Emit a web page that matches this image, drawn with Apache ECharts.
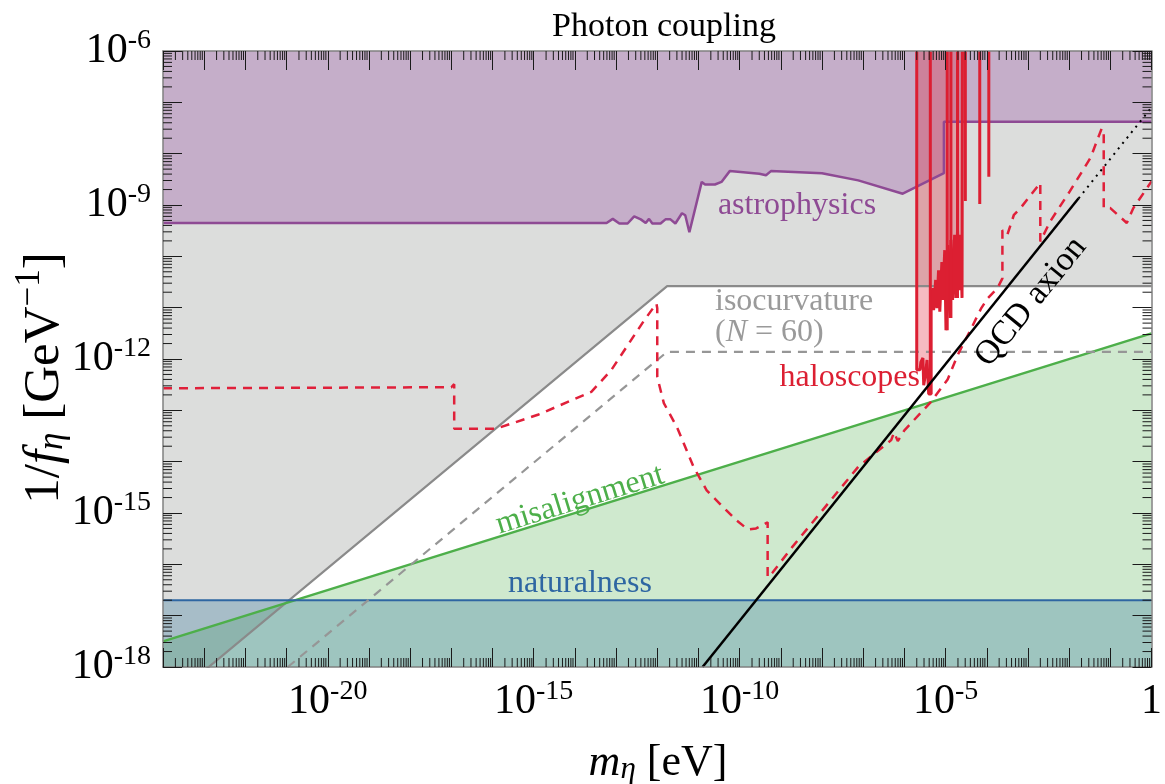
<!DOCTYPE html>
<html>
<head>
<meta charset="utf-8">
<script src="https://cdn.jsdelivr.net/npm/echarts@6/dist/echarts.min.js"></script>
<style>
  html, body { margin: 0; padding: 0; background: #fff; }
  #chart { width: 1165px; height: 784px; }
</style>
</head>
<body>
<div id="chart"></div>
<script>
// both axes are decades: every number below is a log10 exponent
var xMin = -24, xMax = 0;
var yMin = -18, yMax = -6;
var xLabelExp = [-20, -15, -10, -5, 0];
var yLabelExp = [-18, -15, -12, -9, -6];

// astrophysics bound (filled up to the top)
var astroMass = [-24, -13.23, -13.08, -12.92, -12.72, -12.56, -12.40, -12.28, -12.20, -12.12, -11.92, -11.80, -11.68, -11.56, -11.40, -11.32, -11.22, -10.92, -10.84, -10.60, -10.44, -10.24, -9.52, -9.36, -9.24, -8.00, -7.12, -6.04, -5.04, -5.04, 0];
var astroCoup = [-9.35, -9.35, -9.27, -9.36, -9.36, -9.22, -9.28, -9.35, -9.27, -9.36, -9.36, -9.28, -9.28, -9.36, -9.16, -9.20, -9.53, -8.55, -8.60, -8.60, -8.55, -8.34, -8.39, -8.42, -8.34, -8.38, -8.52, -8.78, -8.38, -7.38, -7.38];

// isocurvature
var isoMass = [-24, -11.76, 0];
var isoCoup = [-18.74, -10.58, -10.58];
var isoN60Mass = [-20.97, -11.76, 0];
var isoN60Coup = [-18, -11.86, -11.86];

// misalignment and naturalness
var misMass = [-24, 0];
var misCoup = [-17.5, -11.5];
var natMass = [-24, 0];
var natCoup = [-16.7, -16.7];

// QCD axion line
var qcdMass = [-10.9, -1.77];
var qcdCoup = [-18, -8.87];
var qcdDotMass = [-1.77, 0];
var qcdDotCoup = [-8.87, -7.1];

// haloscopes, existing limits (filled up to the top)
var haloMass = [-5.70, -5.70, -5.62, -5.60, -5.55, -5.53, -5.48, -5.45, -5.41, -5.35, -5.35, -5.31, -5.29, -5.24, -5.21, -5.17, -5.14, -5.09, -5.07, -5.02, -4.99, -4.95, -4.92, -4.89, -4.87, -4.83, -4.78, -4.75, -4.71, -4.67, -4.64, -4.60, -4.59];
var haloCoup = [-6, -12.21, -12.21, -12.06, -11.98, -12.51, -12.25, -12.02, -12.68, -12.68, -10.85, -10.62, -11.05, -10.46, -11.01, -10.27, -11.08, -10.11, -10.85, -9.88, -11.44, -9.78, -10.85, -11.20, -9.68, -10.85, -9.58, -10.81, -9.49, -10.66, -9.58, -10.81, -6];
// single narrow exclusions drawn as lines from the top
var haloSpikeMass = [-5.37, -4.96, -4.87, -4.71, -4.52, -4.17, -3.95];
var haloSpikeCoup = [-12.68, -11.44, -11.20, -10.81, -8.92, -8.98, -8.45];

// haloscopes, projections (dashed)
var projMass = [-24, -17.0, -16.93, -16.93, -15.92, -14.88, -13.60, -13.12, -12.32, -12.02, -12.0, -12.0, -11.84, -11.52, -11.12, -10.80, -10.48, -10.08, -9.80, -9.60, -9.32, -9.32, -9.20, -8.72, -7.92, -7.12, -6.72, -6.32, -6.25, -6.16, -6.0, -5.36, -4.95, -4.71, -4.38, -4.14, -3.98, -3.74, -3.62, -3.62, -3.50, -3.34, -3.18, -2.70, -2.70, -2.46, -1.98, -1.48, -1.21, -1.16, -1.16, -1.0, -0.60, -0.44, 0];
var projCoup = [-12.57, -12.55, -12.49, -13.36, -13.36, -13.08, -12.64, -12.22, -11.25, -10.92, -11.01, -12.35, -12.86, -13.33, -14.10, -14.56, -14.82, -15.14, -15.32, -15.30, -15.18, -16.25, -16.16, -15.66, -14.88, -14.10, -13.84, -13.58, -13.43, -13.60, -13.39, -12.84, -12.40, -11.93, -11.41, -11.02, -10.82, -10.62, -10.43, -9.49, -9.58, -9.19, -9.06, -8.57, -9.71, -9.32, -8.73, -8.08, -7.51, -7.55, -9.06, -9.06, -9.35, -9.06, -8.54];

var serif = '"Liberation Serif", "DejaVu Serif", serif';

function pts(ms, gs) {
  return ms.map(function (m, i) { return [m, gs[i]]; });
}
function spikes(ms, gs) {
  var out = [];
  ms.forEach(function (m, i) {
    out.push([m, yMax]);
    out.push([m, gs[i]]);
    out.push(['-', '-']);
  });
  return out;
}
function powLabel(e) {
  if (e === 0) return '{b|1}';
  return '{b|10}{s|-' + Math.abs(e) + '}';
}

// minor ticks at 2..9 x 10^n on all four sides
var minorTicks = [];
for (var n = xMin; n < xMax; n++) {
  for (var k = 2; k <= 9; k++) {
    minorTicks.push([n + Math.log10(k), yMin, 0]);
    minorTicks.push([n + Math.log10(k), yMax, 2]);
  }
}
for (var n2 = yMin; n2 < yMax; n2++) {
  for (var k2 = 2; k2 <= 9; k2++) {
    minorTicks.push([xMin, n2 + Math.log10(k2), 1]);
    minorTicks.push([xMax, n2 + Math.log10(k2), 3]);
  }
}

var richLabel = {
  b: { fontFamily: serif, fontSize: 42, color: '#000', verticalAlign: 'bottom', lineHeight: 42 },
  s: { fontFamily: serif, fontSize: 28, color: '#000', verticalAlign: 'bottom', lineHeight: 28, padding: [0, 0, 17, 0] }
};

function decadeAxis(min, max, pos, showLabel, labelExp, isX) {
  return {
    type: 'value', position: pos,
    min: min, max: max, interval: 1,
    z: 10,
    axisLine: { show: true, onZero: false, lineStyle: { color: '#808080', width: 1.5 } },
    axisTick: { show: true, inside: true, length: 19, lineStyle: { color: '#1a1a1a', width: 1 } },
    splitLine: { show: false },
    axisLabel: {
      show: showLabel, margin: isX ? 14 : 12, rich: richLabel,
      formatter: function (v) {
        var e = Math.round(v);
        return labelExp.indexOf(e) >= 0 ? powLabel(e) : '';
      }
    }
  };
}

var chart = echarts.init(document.getElementById('chart'));
chart.setOption({
  animation: false,
  backgroundColor: '#fff',
  grid: { left: 163, right: 3, top: 51, bottom: 117 },
  xAxis: [
    decadeAxis(xMin, xMax, 'bottom', true, xLabelExp, true),
    decadeAxis(xMin, xMax, 'top', false, xLabelExp, true)
  ],
  yAxis: [
    decadeAxis(yMin, yMax, 'left', true, yLabelExp, false),
    decadeAxis(yMin, yMax, 'right', false, yLabelExp, false)
  ],
  series: [
    {
      name: 'isocurvature', type: 'line', symbol: 'none', data: pts(isoMass, isoCoup),
      lineStyle: { color: '#8a8a8a', width: 2.2 },
      areaStyle: { origin: 'end', color: '#dcdddc', opacity: 1 }
    },
    {
      name: 'misalignment', type: 'line', symbol: 'none', data: pts(misMass, misCoup),
      lineStyle: { color: '#4daf4a', width: 2.5 },
      areaStyle: { origin: 'start', color: 'rgba(77,175,74,0.27)', opacity: 1 }
    },
    {
      name: 'naturalness', type: 'line', symbol: 'none', data: pts(natMass, natCoup),
      lineStyle: { color: '#2e66a2', width: 2 },
      areaStyle: { origin: 'start', color: 'rgba(55,120,160,0.32)', opacity: 1 }
    },
    {
      name: 'astrophysics', type: 'line', symbol: 'none', data: pts(astroMass, astroCoup),
      lineStyle: { color: '#8e4a94', width: 2.5 },
      areaStyle: { origin: 'end', color: 'rgba(152,78,163,0.33)', opacity: 1 }
    },
    {
      name: 'isocurvature N=60', type: 'line', symbol: 'none', data: pts(isoN60Mass, isoN60Coup),
      lineStyle: { color: '#969696', width: 2.2, type: [9, 7] }
    },
    {
      name: 'haloscopes', type: 'line', symbol: 'none', data: pts(haloMass, haloCoup),
      lineStyle: { color: '#dc1f32', width: 3 },
      areaStyle: { origin: 'end', color: 'rgba(224,30,50,0.3)', opacity: 1 }
    },
    {
      name: 'haloscope spikes', type: 'line', symbol: 'none', connectNulls: false, data: spikes(haloSpikeMass, haloSpikeCoup),
      lineStyle: { color: '#dc1f32', width: 3 }
    },
    {
      name: 'haloscope projections', type: 'line', symbol: 'none', data: pts(projMass, projCoup),
      lineStyle: { color: '#e0203a', width: 2.5, type: [9, 7] }
    },
    {
      name: 'QCD axion', type: 'line', symbol: 'none', data: pts(qcdMass, qcdCoup),
      lineStyle: { color: '#000', width: 2.5 }
    },
    {
      name: 'QCD axion (dotted)', type: 'line', symbol: 'none', data: pts(qcdDotMass, qcdDotCoup),
      lineStyle: { color: '#000', width: 2, type: [2, 5] }
    },
    {
      name: 'minor ticks', type: 'custom', z: 11, silent: true, clip: false,
      data: minorTicks,
      encode: { x: 0, y: 1 },
      renderItem: function (params, api) {
        var p = api.coord([api.value(0), api.value(1)]);
        var side = api.value(2), len = 9;
        var d = [[0, -len], [len, 0], [0, len], [-len, 0]][side];
        return {
          type: 'line',
          shape: { x1: p[0], y1: p[1], x2: p[0] + d[0], y2: p[1] + d[1] },
          style: { stroke: '#1a1a1a', lineWidth: 1 }
        };
      }
    }
  ],
  graphic: [
    { type: 'text', x: 664, y: 27, z: 20,
      style: { text: 'Photon coupling', font: '34px ' + serif, fill: '#000', align: 'center', verticalAlign: 'middle' } },
    { type: 'text', x: 658, y: 760, z: 20,
      style: { text: '{i|m}{u|\u03b7}{r| [eV]}', align: 'center', verticalAlign: 'middle',
        rich: {
          i: { fontFamily: serif, fontStyle: 'italic', fontSize: 44, verticalAlign: 'bottom', lineHeight: 50 },
          u: { fontFamily: serif, fontStyle: 'italic', fontSize: 31, verticalAlign: 'bottom', lineHeight: 31 },
          r: { fontFamily: serif, fontSize: 44, verticalAlign: 'bottom', lineHeight: 50 }
        } } },
    { type: 'text', x: 42, y: 378, rotation: Math.PI / 2, z: 20,
      style: { text: '{r|1/}{i|f}{u|\u03b7}{r| [GeV}{p|\u22121}{r|]}', align: 'center', verticalAlign: 'middle',
        rich: {
          r: { fontFamily: serif, fontSize: 51, verticalAlign: 'bottom', lineHeight: 56 },
          i: { fontFamily: serif, fontStyle: 'italic', fontSize: 51, verticalAlign: 'bottom', lineHeight: 56 },
          u: { fontFamily: serif, fontStyle: 'italic', fontSize: 35, verticalAlign: 'bottom', lineHeight: 35 },
          p: { fontFamily: serif, fontSize: 35, verticalAlign: 'bottom', lineHeight: 35, padding: [0, 0, 23, 0] }
        } } },
    { type: 'text', x: 797, y: 206, z: 20,
      style: { text: 'astrophysics', font: '32px ' + serif, fill: '#8e4a94', align: 'center', verticalAlign: 'middle' } },
    { type: 'text', x: 715, y: 302, z: 20,
      style: { text: 'isocurvature', font: '32px ' + serif, fill: '#9a9a9a', align: 'left', verticalAlign: 'middle' } },
    { type: 'text', x: 715, y: 333, z: 20,
      style: { text: '{r|(}{i|N}{r| = 60)}', fill: '#9a9a9a', align: 'left', verticalAlign: 'middle',
        rich: {
          r: { fontFamily: serif, fontSize: 32, color: '#9a9a9a' },
          i: { fontFamily: serif, fontSize: 32, fontStyle: 'italic', color: '#9a9a9a' }
        } } },
    { type: 'text', x: 920, y: 378, z: 20,
      style: { text: 'haloscopes', font: '32px ' + serif, fill: '#dc1f32', align: 'right', verticalAlign: 'middle' } },
    { type: 'text', x: 580, y: 500, rotation: 0.2985, z: 20,
      style: { text: 'misalignment', font: '32px ' + serif, fill: '#4daf4a', align: 'center', verticalAlign: 'middle' } },
    { type: 'text', x: 580, y: 584, z: 20,
      style: { text: 'naturalness', font: '32px ' + serif, fill: '#2e66a2', align: 'center', verticalAlign: 'middle' } },
    { type: 'text', x: 1031, y: 302, rotation: 0.888, z: 20,
      style: { text: 'QCD axion', font: '34px ' + serif, fill: '#000', align: 'center', verticalAlign: 'middle' } }
  ]
});
</script>
</body>
</html>
